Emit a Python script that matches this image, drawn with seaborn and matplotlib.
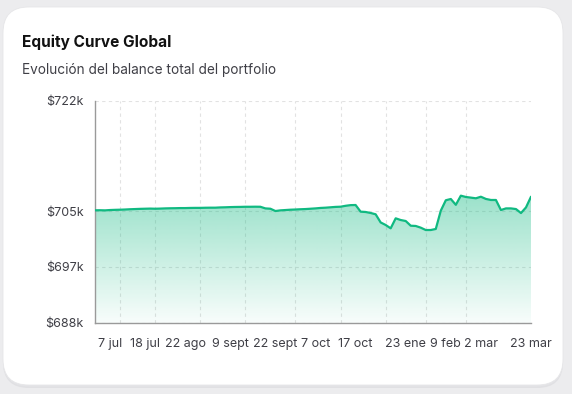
"""Equity curve card: area chart with a green fade, on a rounded white card."""
import matplotlib

matplotlib.use("Agg")
import matplotlib.pyplot as plt
import numpy as np
import pandas as pd
import seaborn as sns
from matplotlib.colors import to_rgb
from matplotlib.patches import FancyBboxPatch

# balance in thousands of dollars, one value per session
balance_k = [
    705.26, 705.27, 705.25, 705.30, 705.33, 705.35, 705.38, 705.42, 705.45, 705.48,
    705.50, 705.52, 705.50, 705.52, 705.55, 705.57, 705.58, 705.60, 705.60, 705.62,
    705.63, 705.63, 705.65, 705.66, 705.66, 705.70, 705.72, 705.75, 705.77, 705.78,
    705.80, 705.80, 705.81, 705.80, 705.55, 705.50, 705.15, 705.25, 705.30, 705.35,
    705.38, 705.42, 705.45, 705.50, 705.55, 705.62, 705.66, 705.72, 705.78, 705.81,
    705.95, 706.05, 706.07, 705.05, 705.00, 704.85, 704.65, 703.40, 703.01, 702.50,
    704.03, 703.77, 703.62, 702.90, 702.86, 702.60, 702.24, 702.24, 702.40, 705.20,
    706.80, 706.99, 706.10, 707.50, 707.30, 707.20, 707.10, 707.34, 707.00, 706.84,
    706.84, 705.30, 705.55, 705.55, 705.45, 704.84, 705.70, 707.34,
]

x_tick_labels = ["7 jul", "18 jul", "22 ago", "9 sept", "22 sept", "7 oct",
                 "17 oct", "23 ene", "9 feb", "2 mar", "23 mar"]
x_tick_idx = [3, 10, 18, 27, 36, 44, 52, 62, 70, 77, 87]
x_grid_idx = [5, 12, 21, 30, 40, 49, 58, 66, 74, 87]

y_tick_values = [688.0, 696.6, 705.1, 722.0]
y_tick_labels = ["$688k", "$697k", "$705k", "$722k"]
y_min, y_max = 688.0, 722.0

df = pd.DataFrame({"idx": np.arange(len(balance_k)), "balance": balance_k})

GREEN = "#10b981"
TEXT = "#3f3f46"
GRID = "#e2e2e2"
AXIS = "#9a9a9a"

sns.set_style("white")
plt.rcParams["font.family"] = ["Inter", "DejaVu Sans"]

W, H = 572, 394
fig = plt.figure(figsize=(W / 100, H / 100), dpi=100)
fig.patch.set_facecolor("#ececee")

# card with soft shadow
for off, col in [(3, "#e0e0e3"), (1.5, "#e4e4e7")]:
    fig.patches.append(FancyBboxPatch(
        (3 / W, (H - 385 - off) / H), 560 / W, 378 / H,
        boxstyle="round,pad=0,rounding_size=0.045", transform=fig.transFigure,
        facecolor=col, edgecolor="none", zorder=-3, mutation_aspect=W / H))
fig.patches.append(FancyBboxPatch(
    (3 / W, (H - 385) / H), 560 / W, 378 / H,
    boxstyle="round,pad=0,rounding_size=0.045", transform=fig.transFigure,
    facecolor="white", edgecolor="#e6e6e8", linewidth=0.6, zorder=-2,
    mutation_aspect=W / H))

fig.text(22 / W, 1 - 47 / H, "Equity Curve Global", fontsize=11.1,
         fontweight="bold", color="#111111")
fig.text(22 / W, 1 - 74 / H, "Evolución del balance total del portfolio",
         fontsize=9.8, color=TEXT)

ax = fig.add_axes([95 / W, 1 - 323 / H, (531 - 95) / W, (323 - 101) / H])
ax.set_zorder(5)
ax.set_facecolor("none")

# area gradient clipped to the filled polygon
fill = ax.fill_between(df["idx"], df["balance"], y_min, color="none", lw=0)
top = max(balance_k)
grad = np.zeros((256, 1, 4))
grad[:, 0, :3] = to_rgb(GREEN)
grad[:, 0, 3] = np.linspace(0.42, 0.03, 256)
img = ax.imshow(grad, extent=[0, len(balance_k) - 1, y_min, top],
                origin="upper", aspect="auto", zorder=1)
img.set_clip_path(fill.get_paths()[0], transform=ax.transData)

sns.lineplot(data=df, x="idx", y="balance", color=GREEN, linewidth=1.6,
             ax=ax, zorder=3)

ax.set_xlim(0, len(balance_k) - 1)
ax.set_ylim(y_min, y_max)

ax.set_xticks(x_tick_idx)
ax.set_xticklabels(x_tick_labels)
ax.set_xticks(x_grid_idx, minor=True)
ax.set_yticks(y_tick_values)
ax.set_yticklabels(y_tick_labels)

ax.grid(False)
ax.xaxis.grid(True, which="minor", color=GRID, linestyle=(0, (3, 3)), linewidth=0.8)
ax.yaxis.grid(True, which="major", color=GRID, linestyle=(0, (3, 3)), linewidth=0.8)
ax.set_axisbelow(True)

ax.tick_params(axis="both", which="major", length=5, width=0.8, color=AXIS,
               labelcolor=TEXT, labelsize=9, pad=3)
ax.tick_params(axis="x", which="minor", length=0)
ax.tick_params(axis="x", pad=6)

for side in ["top", "right"]:
    ax.spines[side].set_visible(False)
for side in ["left", "bottom"]:
    ax.spines[side].set_color(AXIS)
    ax.spines[side].set_linewidth(1.0)

ax.set_xlabel("")
ax.set_ylabel("")

fig.savefig("out.png", dpi=100, facecolor=fig.get_facecolor())
